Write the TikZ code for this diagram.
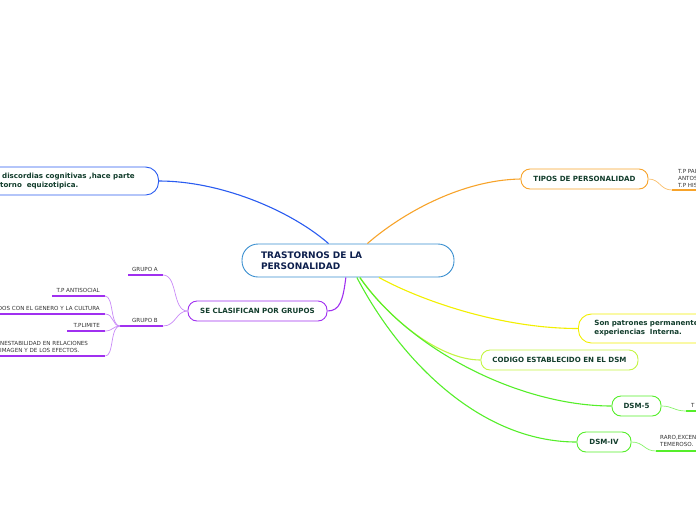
\documentclass[tikz,border=0pt]{standalone}
\usepackage{fontspec}
\setmainfont{DejaVu Sans}
\definecolor{navy}{HTML}{0D1F4D}
\definecolor{txt}{HTML}{123D2C}
\definecolor{lblc}{HTML}{333333}
\definecolor{cblue}{HTML}{3A8FD0}
\definecolor{bblue}{HTML}{2A5CF0}
\definecolor{orng}{HTML}{F7A32A}
\definecolor{yel}{HTML}{F2EF00}
\definecolor{limec}{HTML}{C4F542}
\definecolor{grn}{HTML}{55EE2A}
\definecolor{purp}{HTML}{A030F0}
\definecolor{lpurp}{HTML}{C98AF7}
\begin{document}
\begin{tikzpicture}[x=1pt,y=-1pt,
  mapbox/.style={draw, fill=white, line width=0.9pt, rounded corners=#1,
    font=\fontsize{7.1}{9}\selectfont\bfseries, text=txt, inner sep=0pt},
  mapbox/.default=9pt,
  conn/.style={line width=1.1pt},
  thin/.style={line width=0.7pt},
  ul/.style={line width=1.6pt},
  lbl/.style={font=\fontsize{5.6}{6.8}\selectfont, text=lblc, inner xsep=4pt, inner ysep=3pt}
]
\useasboundingbox (0,0) rectangle (696,520);
\clip (0,0) rectangle (696,520);

% central
\node[mapbox=16pt, draw=cblue, minimum width=212pt, minimum height=33pt,
  text width=174pt, inner xsep=19pt, align=left,
  font=\fontsize{9}{11}\selectfont\bfseries, text=navy] (c) at (348,260.5)
  {TRASTORNOS DE LA\\PERSONALIDAD};

% blue branch
\node[mapbox=13pt, draw=bblue, minimum width=240pt, minimum height=28pt, anchor=east] (bl) at (159,181) {};
\node[anchor=west, inner sep=0pt, align=left, text=txt,
  font=\fontsize{7.1}{9}\selectfont\bfseries] (blt) at (0,181.5)
  {\hspace*{2pt}discordias cognitivas ,hace parte\\torno\ \ equizotipica.};
\draw[conn, bblue] (c) .. controls (290,210) and (220,181) .. (bl.east);

% orange branch
\node[mapbox, draw=orng, minimum width=127pt, minimum height=20pt] (tp) at (584.5,179) {TIPOS DE PERSONALIDAD};
\draw[conn, orng] (c) .. controls (400,215) and (460,180) .. (tp.west);
\node[lbl, anchor=north west, align=left, inner sep=0pt] (tpl) at (678,169.5) {T.P PAI\\ANTOS\\T.P HIS};
\coordinate (tpu) at (672,190);
\draw[ul, orng] (tpu) -- ++(30,0);
\draw[thin, orng!70] (tp.east) .. controls (660,179) and (660,190) .. (tpu);

% yellow branch
\node[mapbox=13pt, draw=yel, minimum height=29pt, text width=130pt, inner xsep=16pt,
  align=left, anchor=west] (pat) at (578,328.5) {Son patrones permanente\\experiencias\ \ Interna.};
\draw[conn, yel] (c) .. controls (420,300) and (500,328.5) .. (pat.west);

% codigo
\node[mapbox, draw=limec, minimum width=157pt, minimum height=20pt] (cod) at (559.5,360) {CODIGO ESTABLECIDO EN EL DSM};
\draw[conn, limec] (c) .. controls (390,320) and (440,360) .. (cod.west);

% DSM-5
\node[mapbox, draw=grn, minimum width=49pt, minimum height=20pt] (d5) at (636.5,406) {DSM-5};
\draw[conn, grn] (c) .. controls (410,350) and (520,406) .. (d5.west);
\node[lbl, anchor=base west, inner sep=0pt] (d5l) at (691,407) {T};
\coordinate (d5u) at (686,411);
\draw[ul, grn] (d5u) -- ++(12,0);
\draw[thin, grn!70] (d5.east) .. controls (673,406) and (674,411) .. (d5u);

% DSM-IV
\node[mapbox, draw=grn, minimum width=54pt, minimum height=20pt] (d4) at (604,442) {DSM-IV};
\draw[conn, grn] (c) .. controls (400,360) and (480,442) .. (d4.west);
\node[lbl, anchor=north west, align=left, inner sep=0pt] (d4l) at (660,435.5) {RARO,EXCEN\\TEMEROSO.};
\coordinate (d4u) at (656,451);
\draw[ul, grn] (d4u) -- ++(42,0);
\draw[thin, grn!70] (d4.east) .. controls (644,442) and (644,451) .. (d4u);

% purple branch
\node[mapbox, draw=purp, minimum width=139pt, minimum height=20pt] (se) at (257.5,311) {SE CLASIFICAN POR GRUPOS};
\draw[conn, purp] (c) .. controls (343,300) and (340,311) .. (se.east);

\node[lbl, anchor=south east, inner xsep=5pt] (ga) at (163,275) {GRUPO A};
\draw[ul, purp] (ga.south east) -- ++(-35,0);
\node[lbl, anchor=south east, inner xsep=5pt] (gb) at (163,326) {GRUPO B};
\draw[ul, purp] (gb.south east) -- ++(-43,0);
\coordinate (gbL) at (120,326);
\draw[thin, lpurp] (ga.south east) .. controls (178,275) and (172,311) .. (se.west);
\draw[thin, lpurp] (gb.south east) .. controls (176,326) and (176,311) .. (se.west);

\node[lbl, anchor=south east, inner xsep=5pt] (anti) at (105,296) {T.P ANTISOCIAL};
\draw[ul, purp] (anti.south east) -- ++(-53,0);
\node[lbl, anchor=south east, inner xsep=5pt] (gen) at (105,314) {DOS CON EL GENERO Y LA CULTURA};
\draw[ul, purp] (gen.south east) -- ++(-110,0);
\node[lbl, anchor=south east, inner xsep=5pt] (plim) at (105,331) {T.PLIMITE};
\draw[ul, purp] (plim.south east) -- ++(-38,0);
\node[lbl, anchor=south west, inner xsep=0pt, text width=105pt, align=left] (ines) at (0,356)
  {NESTABILIDAD EN RELACIONES\\IMAGEN Y DE LOS EFECTOS.};
\draw[ul, purp] (ines.south west) -- (ines.south east);

\draw[thin, lpurp] (anti.south east) .. controls (114,296) and (110,326) .. (gbL);
\draw[thin, lpurp] (gen.south east) .. controls (114,314) and (112,326) .. (gbL);
\draw[thin, lpurp] (plim.south east) .. controls (113,331) and (113,326) .. (gbL);
\draw[thin, lpurp] (ines.south east) .. controls (114,356) and (110,326) .. (gbL);
\end{tikzpicture}
\end{document}
